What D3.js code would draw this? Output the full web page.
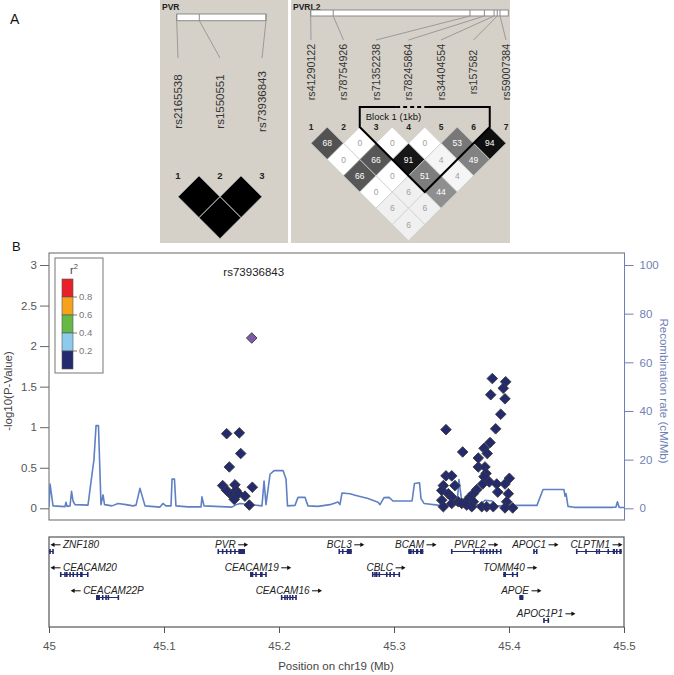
<!DOCTYPE html>
<html><head><meta charset="utf-8">
<script src="https://cdn.jsdelivr.net/npm/d3@7"></script>
<style>
body{margin:0;background:#fff}
svg{display:block;font-family:"Liberation Sans",Arial,sans-serif}
</style>
</head><body>
<svg id="chart" width="674" height="675"></svg>
<script>
// ---------------- DATA ----------------
// Panel A: Haploview LD plots
const pvrMarkers = ["rs2165538", "rs1550551", "rs73936843"];
const pvrMarkerBarPos = [0, 0.253, 1];
const pvrLD = [[1, 2, 100], [2, 3, 100], [1, 3, 100]];

const pvrl2Markers = ["rs41290122", "rs78754926", "rs71352238", "rs78245864", "rs34404554", "rs157582", "rs59007384"];
const pvrl2MarkerBarPos = [0, 0.114, 0.806, 0.879, 0.928, 0.944, 0.958];
const pvrl2LD = [
  [1, 2, 68], [2, 3, 0], [3, 4, 0], [4, 5, 0], [5, 6, 53], [6, 7, 94],
  [1, 3, 0], [2, 4, 66], [3, 5, 91], [4, 6, 4], [5, 7, 49],
  [1, 4, 66], [2, 5, 0], [3, 6, 51], [4, 7, 4],
  [1, 5, 0], [2, 6, 6], [3, 7, 44],
  [1, 6, 6], [2, 7, 6],
  [1, 7, 6]
];
const pvrl2BlockLabel = "Block 1 (1kb)";
const pvrl2BlockMarkers = [3, 6];

// Panel B: regional association plot
const xTicks = [45, 45.1, 45.2, 45.3, 45.4, 45.5];
const yTicksLeft = [0, 0.5, 1, 1.5, 2, 2.5, 3];
const yTicksRight = [0, 20, 40, 60, 80, 100];
const legendBreaks = [0.8, 0.6, 0.4, 0.2];
const legendColors = ["#e8202a", "#f5a31c", "#66b945", "#8ccbee", "#232a6e"];

const recombPos = [45.0000, 45.0009, 45.0035, 45.0139, 45.0148, 45.0157, 45.0183, 45.0196, 45.0209, 45.0226,
  45.0339, 45.0374, 45.0391, 45.0409, 45.0430, 45.0443, 45.0452, 45.0470, 45.0483, 45.0548,
  45.0600, 45.0670, 45.0730, 45.0757, 45.0791, 45.0835, 45.0965, 45.0991, 45.1017, 45.1061,
  45.1070, 45.1091, 45.1104, 45.1209, 45.1322, 45.1330, 45.1348, 45.1591, 45.1626, 45.1661,
  45.1852, 45.1870, 45.1887, 45.1922, 45.1957, 45.2035, 45.2061, 45.2074, 45.2139, 45.2165,
  45.2226, 45.2252, 45.2339, 45.2443, 45.2513, 45.2530, 45.2548, 45.2617, 45.2670, 45.2774,
  45.2861, 45.2878, 45.2913, 45.2957, 45.2991, 45.3157, 45.3178, 45.3222, 45.3235, 45.3261,
  45.3400, 45.3548, 45.3565, 45.3583, 45.3600, 45.3748, 45.3791, 45.3852, 45.3896, 45.4096,
  45.4243, 45.4296, 45.4478, 45.4487, 45.4496, 45.4513, 45.4565, 45.4904, 45.4930, 45.4943,
  45.4957, 45.5000];
const recombRate = [0.5, 10, 1, 0.7, 2.5, 0.8, 1, 7, 3, 1.5,
  1.3, 14, 20, 34, 34, 15, 1.5, 5.5, 1.5, 1,
  2, 1.5, 1, 1.3, 8.2, 1, 0.5, 2, 1, 1,
  12, 12, 1, 0.6, 0.6, 4.7, 1, 0.5, 1.5, 2,
  1, 11.2, 1.5, 14, 15.5, 15.5, 12, 1, 1.2, 4.5,
  4.5, 1, 0.8, 1.5, 2.6, 1.5, 6.3, 6, 5.3, 4,
  2.5, 1.5, 4.4, 4.5, 3, 3, 10.2, 10.5, 4, 2,
  1.2, 1.5, 11.8, 5, 1, 1.5, 3.3, 3, 1, 1.2,
  1.2, 7.7, 7.7, 5, 6, 0.8, 0.4, 0.4, 0.5, 2.7,
  0.4, 0.3];

const snpPos = [
  45.1545, 45.1655, 45.1667, 45.1568, 45.1510, 45.1617, 45.1768, 45.1545, 45.1626, 45.1589,
  45.1646, 45.1611, 45.1704, 45.1742,
  45.3452, 45.3597, 45.3855, 45.3971, 45.3950, 45.3841, 45.3965, 45.3928, 45.3884, 45.3835,
  45.3783, 45.3811, 45.3733, 45.3733, 45.3791, 45.3800, 45.4003, 45.3783, 45.3829, 45.3771,
  45.3893, 45.3965, 45.3902, 45.3994, 45.3719, 45.3690, 45.3661, 45.3632, 45.3690, 45.3980,
  45.3763, 45.3806, 45.3863, 45.3965, 45.4032, 45.3452, 45.3502, 45.3429, 45.3530, 45.3415,
  45.3472, 45.3502, 45.3415, 45.3429, 45.3502, 45.3559, 45.3589, 45.3632, 45.3676];
const snpLogP = [
  0.92, 0.93, 0.675, 0.51, 0.28, 0.29, 0.26, 0.22, 0.22, 0.16,
  0.18, 0.11, 0.15, 0.04,
  0.97, 0.695, 1.60, 1.56, 1.48, 1.40, 1.35, 1.16, 0.98, 0.81,
  0.74, 0.675, 0.62, 0.51, 0.51, 0.43, 0.37, 0.39, 0.325, 0.30,
  0.30, 0.30, 0.20, 0.18, 0.23, 0.18, 0.14, 0.09, 0.08, 0.08,
  0.02, 0.02, 0.02, 0.005, 0.005, 0.40, 0.40, 0.28, 0.28, 0.22,
  0.18, 0.14, 0.10, 0.02, 0.06, 0.08, 0.06, 0.04, 0.02];
const leadSnpName = "rs73936843";
const leadSnpPos = 45.1763;
const leadSnpLogP = 2.10;

const geneNames = ["ZNF180", "CEACAM20", "CEACAM22P", "PVR", "CEACAM19", "CEACAM16", "BCL3", "CBLC", "BCAM", "PVRL2", "TOMM40", "APOE", "APOC1", "APOC1P1", "CLPTM1"];
const geneStart = [44.9786, 45.0102, 45.0409, 45.1472, 45.1748, 45.2023, 45.2524, 45.2815, 45.3124, 45.3502, 45.3950, 45.4090, 45.4217, 45.4304, 45.4589];
const geneEnd = [45.0035, 45.0337, 45.0603, 45.1704, 45.1887, 45.2148, 45.2633, 45.3046, 45.3255, 45.3928, 45.4072, 45.4125, 45.4241, 45.4342, 45.4980];
const geneStrand = ["-", "-", "-", "+", "+", "+", "+", "+", "+", "+", "+", "+", "+", "+", "+"];
const geneExons = [
  [[45.0009, 45.0009], [45.0035, 45.0035]],
  [[45.0102, 45.0102], [45.0139, 45.0139], [45.0155, 45.0162], [45.0183, 45.0183], [45.0211, 45.0211], [45.0246, 45.0246], [45.0270, 45.0293], [45.0337, 45.0337]],
  [[45.0409, 45.0443], [45.0467, 45.0467], [45.0496, 45.0496], [45.0516, 45.0516], [45.0603, 45.0603]],
  [[45.1472, 45.1472], [45.1510, 45.1510], [45.1545, 45.1545], [45.1580, 45.1580], [45.1617, 45.1617], [45.1646, 45.1704]],
  [[45.1748, 45.1777], [45.1800, 45.1800], [45.1835, 45.1858], [45.1887, 45.1887]],
  [[45.2023, 45.2023], [45.2052, 45.2052], [45.2072, 45.2072], [45.2096, 45.2096], [45.2119, 45.2119], [45.2148, 45.2148]],
  [[45.2524, 45.2524], [45.2554, 45.2554], [45.2589, 45.2633]],
  [[45.2815, 45.2815], [45.2835, 45.2835], [45.2850, 45.2850], [45.2872, 45.2872], [45.2937, 45.2937], [45.2959, 45.2974], [45.3000, 45.3000], [45.3046, 45.3046]],
  [[45.3124, 45.3154], [45.3168, 45.3168], [45.3191, 45.3211], [45.3226, 45.3255]],
  [[45.3502, 45.3502], [45.3696, 45.3696], [45.3754, 45.3754], [45.3777, 45.3777], [45.3806, 45.3806], [45.3835, 45.3835], [45.3863, 45.3863], [45.3893, 45.3893], [45.3928, 45.3928]],
  [[45.3950, 45.3974], [45.4032, 45.4032], [45.4072, 45.4072]],
  [[45.4090, 45.4125]],
  [[45.4217, 45.4217], [45.4241, 45.4241]],
  [[45.4304, 45.4304], [45.4342, 45.4342]],
  [[45.4589, 45.4589], [45.4670, 45.4670], [45.4763, 45.4763], [45.4785, 45.4785], [45.4863, 45.4863], [45.4902, 45.4922], [45.4937, 45.4937], [45.4959, 45.4980]]
];

// ---------------- DRAW ----------------
const svg = d3.select("#chart");
const haploBg = "#d5d1c9";
const textDark = "#333";

// Panel labels
svg.append("text").attr("x", 10).attr("y", 24).attr("font-size", 14).attr("fill", "#111").text("A");
svg.append("text").attr("x", 12).attr("y", 251).attr("font-size", 13).attr("fill", "#111").text("B");

// Haploview helper
function diamondPath(cx, cy, h) {
  return `M${cx},${cy - h}L${cx + h},${cy}L${cx},${cy + h}L${cx - h},${cy}Z`;
}

function drawHaplo(cfg) {
  const g = svg.append("g");
  g.append("rect").attr("x", cfg.bgX).attr("y", 0).attr("width", cfg.bgW).attr("height", 243).attr("fill", haploBg);
  g.append("text").attr("x", cfg.bgX + 2).attr("y", cfg.titleY).attr("font-size", cfg.titleSize)
    .attr("font-weight", "bold").attr("fill", "#222").text(cfg.title);
  const xm = d3.scalePoint().domain(d3.range(1, cfg.markers.length + 1)).range(cfg.markerRange);
  const xb = d3.scaleLinear().domain([0, 1]).range(cfg.barRange);
  // gene bar
  g.append("rect").attr("x", xb(0)).attr("y", cfg.barY).attr("width", xb(1) - xb(0)).attr("height", cfg.barH)
    .attr("fill", "#fff").attr("stroke", "#8a8a8a").attr("stroke-width", 1);
  cfg.barPos.forEach((p, i) => {
    g.append("line").attr("x1", xb(p)).attr("x2", xb(p)).attr("y1", cfg.barY).attr("y2", cfg.barY + cfg.barH)
      .attr("stroke", "#8a8a8a");
    g.append("line").attr("x1", xb(p)).attr("y1", cfg.barY + cfg.barH).attr("x2", xm(i + 1)).attr("y2", cfg.lineEndY)
      .attr("stroke", "#9a9a9a").attr("stroke-width", 1);
  });
  // marker names
  cfg.markers.forEach((m, i) => {
    const x = xm(i + 1);
    g.append("text").attr("x", x).attr("y", cfg.nameY).attr("dy", "0.35em")
      .attr("transform", `rotate(-90,${x},${cfg.nameY})`).attr("text-anchor", "middle")
      .attr("font-size", cfg.nameSize).attr("fill", textDark).text(m);
    g.append("text").attr("x", x).attr("y", cfg.numY).attr("text-anchor", "middle")
      .attr("font-size", cfg.numSize).attr("font-weight", "bold").attr("fill", "#222").text(i + 1);
  });
  // LD diamonds
  const h = (cfg.markerRange[1] - cfg.markerRange[0]) / (cfg.markers.length - 1) / 2;
  const shade = d3.scaleLinear().domain([0, 100]).range([255, 0]);
  cfg.ld.forEach(([a, b, v]) => {
    const cx = (xm(a) + xm(b)) / 2, cy = cfg.row1Y + (b - a - 1) * h;
    const s = Math.round(shade(v));
    g.append("path").attr("d", diamondPath(cx, cy, h)).attr("fill", d3.rgb(s, s, s))
      .attr("stroke", cfg.showValues ? "#cfcfcf" : "#d8d8d8").attr("stroke-width", 0.8);
    if (cfg.showValues) {
      g.append("text").attr("x", cx).attr("y", cy).attr("dy", "0.35em").attr("text-anchor", "middle")
        .attr("font-size", 8.5).attr("fill", v >= 40 ? "#fff" : "#a0a0a0").text(v);
    }
  });
  return {xm, h};
}

drawHaplo({
  bgX: 160, bgW: 128, title: "PVR", titleY: 10, titleSize: 8.5,
  markers: pvrMarkers, markerRange: [178, 262], barRange: [176.7, 266], barY: 14, barH: 6.7,
  barPos: pvrMarkerBarPos, lineEndY: 58, nameY: 101.5, nameSize: 11.5, numY: 179, numSize: 9.5,
  ld: pvrLD, row1Y: 196.7, showValues: false
});
const r2 = drawHaplo({
  bgX: 291, bgW: 219, title: "PVRL2", titleY: 9.5, titleSize: 8.5,
  markers: pvrl2Markers, markerRange: [311, 506], barRange: [310.7, 508.3], barY: 10, barH: 6,
  barPos: pvrl2MarkerBarPos, lineEndY: 40, nameY: 72, nameSize: 10.7, numY: 130, numSize: 8.5,
  ld: pvrl2LD, row1Y: 143.3, showValues: true
});
// LD block outline
{
  const xa = r2.xm(pvrl2BlockMarkers[0]), xb = r2.xm(pvrl2BlockMarkers[1]), h = r2.h;
  const left = xa - h, right = xb + h, topY = 107, startY = 143.3 - h;
  const bottomX = (xa + xb) / 2, bottomY = startY + (bottomX - left);
  const g = svg.append("g").attr("fill", "none").attr("stroke", "#000").attr("stroke-width", 2);
  g.append("path").attr("d", `M${left + 0.28 * (right - left)},${topY}H${left}V${startY}L${bottomX},${bottomY}L${right},${startY}V${topY}H${left + 0.5 * (right - left)}`);
  g.append("line").attr("x1", left + 0.28 * (right - left)).attr("x2", left + 0.5 * (right - left))
    .attr("y1", topY).attr("y2", topY).attr("stroke-dasharray", "4,3");
  svg.append("text").attr("x", left + 6).attr("y", 120).attr("font-size", 9.5).attr("fill", "#111").text(pvrl2BlockLabel);
}

// ---------- Panel B ----------
const L = 49, R = 624.5, T = 253, B = 520;
const x = d3.scaleLinear().domain([45, 45.5]).range([49, 624]);
const yL = d3.scaleLinear().domain([0, 3]).range([508.3, 265]);
const yR = d3.scaleLinear().domain([0, 100]).range([508.3, 265]);
const recombColor = "#5f80c4";
const axisGrey = "#555";

svg.append("defs").append("clipPath").attr("id", "clipMain")
  .append("rect").attr("x", L).attr("y", T).attr("width", R - L).attr("height", B - T);

svg.append("rect").attr("x", L).attr("y", T).attr("width", R - L).attr("height", B - T)
  .attr("fill", "#fff").attr("stroke", "#666").attr("stroke-width", 1);

// recombination line
const recombData = recombPos.map((p, i) => [p, recombRate[i]]);
svg.append("path").datum(recombData).attr("clip-path", "url(#clipMain)")
  .attr("d", d3.line().x(d => x(d[0])).y(d => yR(d[1])))
  .attr("fill", "none").attr("stroke", recombColor).attr("stroke-width", 1.6).attr("stroke-linejoin", "round");

// left axis
const axL = svg.append("g").attr("transform", `translate(${L},0)`)
  .call(d3.axisLeft(yL).tickValues(yTicksLeft).tickSize(9).tickPadding(3).tickFormat(d3.format("~g")));
axL.select(".domain").remove();
axL.selectAll("line").attr("stroke", "#666");
axL.selectAll("text").attr("font-size", 11.5).attr("fill", axisGrey).attr("font-family", "Liberation Sans, Arial, sans-serif");

// right axis
const axR = svg.append("g").attr("transform", `translate(${R},0)`)
  .call(d3.axisRight(yR).tickValues(yTicksRight).tickSize(9).tickPadding(6));
axR.select(".domain").attr("d", `M0,${T}V${B}`).attr("stroke", "#6f7fb5");
axR.selectAll("line").attr("stroke", "#6f7fb5");
axR.selectAll("text").attr("font-size", 11.5).attr("fill", "#6f7fb5").attr("font-family", "Liberation Sans, Arial, sans-serif");

// axis titles
svg.append("text").attr("transform", "translate(12,391) rotate(-90)").attr("text-anchor", "middle")
  .attr("font-size", 11.5).attr("fill", "#444").text("-log10(P-Value)");
svg.append("text").attr("transform", "translate(660,391) rotate(90)").attr("text-anchor", "middle")
  .attr("font-size", 11.5).attr("fill", "#6f7fb5").text("Recombination rate (cM/Mb)");

// SNP points
const dHalf = 5.3;
const snpG = svg.append("g").attr("clip-path", "url(#clipMain)");
snpG.selectAll("path.snp").data(snpPos.map((p, i) => [p, snpLogP[i]])).join("path")
  .attr("class", "snp").attr("d", d => diamondPath(x(d[0]), yL(d[1]), dHalf))
  .attr("fill", legendColors[4]).attr("stroke", "#3a3a3a").attr("stroke-width", 0.9);
snpG.append("path").attr("d", diamondPath(x(leadSnpPos), yL(leadSnpLogP), dHalf))
  .attr("fill", "#7c5ba8").attr("stroke", "#3a3a3a").attr("stroke-width", 0.9);
svg.append("text").attr("x", x(leadSnpPos) + 2).attr("y", 275.5).attr("text-anchor", "middle")
  .attr("font-size", 11.5).attr("fill", "#222").text(leadSnpName);

// legend
{
  const g = svg.append("g");
  g.append("rect").attr("x", 55).attr("y", 258).attr("width", 48).attr("height", 115)
    .attr("fill", "#fff").attr("stroke", "#777").attr("stroke-width", 1);
  const t = g.append("text").attr("x", 74).attr("y", 274).attr("text-anchor", "middle").attr("font-size", 11).attr("fill", "#444");
  t.append("tspan").text("r");
  t.append("tspan").attr("dy", -5).attr("font-size", 7.5).text("2");
  const ly = d3.scaleLinear().domain([1, 0]).range([279, 369]);
  const edges = [1, 0.8, 0.6, 0.4, 0.2, 0];
  legendColors.forEach((c, i) => {
    g.append("rect").attr("x", 62).attr("y", ly(edges[i])).attr("width", 11).attr("height", ly(edges[i + 1]) - ly(edges[i]))
      .attr("fill", c).attr("stroke", "#555").attr("stroke-width", 0.6);
  });
  legendBreaks.forEach(b => {
    g.append("line").attr("x1", 73).attr("x2", 77).attr("y1", ly(b)).attr("y2", ly(b)).attr("stroke", "#777");
    g.append("text").attr("x", 79).attr("y", ly(b)).attr("dy", "0.35em").attr("font-size", 9.5).attr("fill", "#777").text(b);
  });
}

// ---------- Gene track ----------
const GT = 537, GB = 627;
svg.append("rect").attr("x", L).attr("y", GT).attr("width", 624 - L).attr("height", GB - GT)
  .attr("fill", "#fff").attr("stroke", "#555").attr("stroke-width", 1.2);
svg.append("defs").append("clipPath").attr("id", "clipGene")
  .append("rect").attr("x", L).attr("y", GT).attr("width", 624 - L).attr("height", GB - GT);

const geneColor = "#232a6e";
const rowBaseline = [548, 571, 594, 617];
const arrowLen = 10, arrowGap = 2.5, pad = 9;
const geneG = svg.append("g");
const rowsRight = [];
const order = d3.range(geneNames.length).sort((a, b) => geneStart[a] - geneStart[b]);
order.forEach(i => {
  const name = geneNames[i];
  const tmp = geneG.append("text").attr("font-size", 10).attr("font-style", "italic").text(name);
  const tw = tmp.node().getComputedTextLength();
  tmp.remove();
  const totalW = tw + arrowGap + arrowLen;
  const gx0 = Math.max(x(geneStart[i]), L), gx1 = Math.min(x(geneEnd[i]), 624);
  const cx = (gx0 + gx1) / 2;
  let lx = cx - totalW / 2;
  lx = Math.max(lx, L + 1.5);
  lx = Math.min(lx, 622.5 - totalW);
  const extL = Math.min(lx, gx0), extR = Math.max(lx + totalW, gx1);
  let row = 0;
  while (rowsRight[row] !== undefined && rowsRight[row] + pad > extL) row++;
  rowsRight[row] = extR;
  const base = rowBaseline[row];
  const ly = base + 3.5;
  const gg = geneG.append("g").attr("clip-path", "url(#clipGene)");
  gg.append("line").attr("x1", gx0).attr("x2", gx1).attr("y1", ly).attr("y2", ly).attr("stroke", geneColor).attr("stroke-width", 1);
  geneExons[i].forEach(([s, e]) => {
    const ex0 = x(s), w = Math.max(1.6, x(e) - x(s));
    gg.append("rect").attr("x", ex0 - (x(e) - x(s) < 1.6 ? 0.8 : 0)).attr("y", ly - 2.5).attr("width", w).attr("height", 5).attr("fill", geneColor);
  });
  const ay = base - 3.2;
  let tx, ax0, ax1;
  if (geneStrand[i] === "+") { tx = lx; ax0 = lx + tw + arrowGap; ax1 = ax0 + arrowLen; }
  else { ax1 = lx + arrowLen; ax0 = lx; tx = lx + arrowLen + arrowGap; }
  geneG.append("text").attr("x", tx).attr("y", base).attr("font-size", 10).attr("font-style", "italic").attr("fill", "#222").text(name);
  if (geneStrand[i] === "+") {
    geneG.append("line").attr("x1", ax0).attr("x2", ax1 - 3).attr("y1", ay).attr("y2", ay).attr("stroke", "#111").attr("stroke-width", 1);
    geneG.append("path").attr("d", `M${ax1},${ay}L${ax1 - 4},${ay - 2.3}L${ax1 - 4},${ay + 2.3}Z`).attr("fill", "#111");
  } else {
    geneG.append("line").attr("x1", ax0 + 3).attr("x2", ax1).attr("y1", ay).attr("y2", ay).attr("stroke", "#111").attr("stroke-width", 1);
    geneG.append("path").attr("d", `M${ax0},${ay}L${ax0 + 4},${ay - 2.3}L${ax0 + 4},${ay + 2.3}Z`).attr("fill", "#111");
  }
});

// x axis
const axX = svg.append("g").attr("transform", `translate(0,${GB})`)
  .call(d3.axisBottom(x).tickValues(xTicks).tickSize(6).tickPadding(9).tickFormat(d3.format("~g")));
axX.select(".domain").remove();
axX.selectAll("line").attr("stroke", "#555");
axX.selectAll("text").attr("font-size", 11.5).attr("fill", axisGrey).attr("font-family", "Liberation Sans, Arial, sans-serif");
svg.append("text").attr("x", 336).attr("y", 670).attr("text-anchor", "middle").attr("font-size", 11.5).attr("fill", "#444")
  .text("Position on chr19 (Mb)");
</script>
</body></html>
